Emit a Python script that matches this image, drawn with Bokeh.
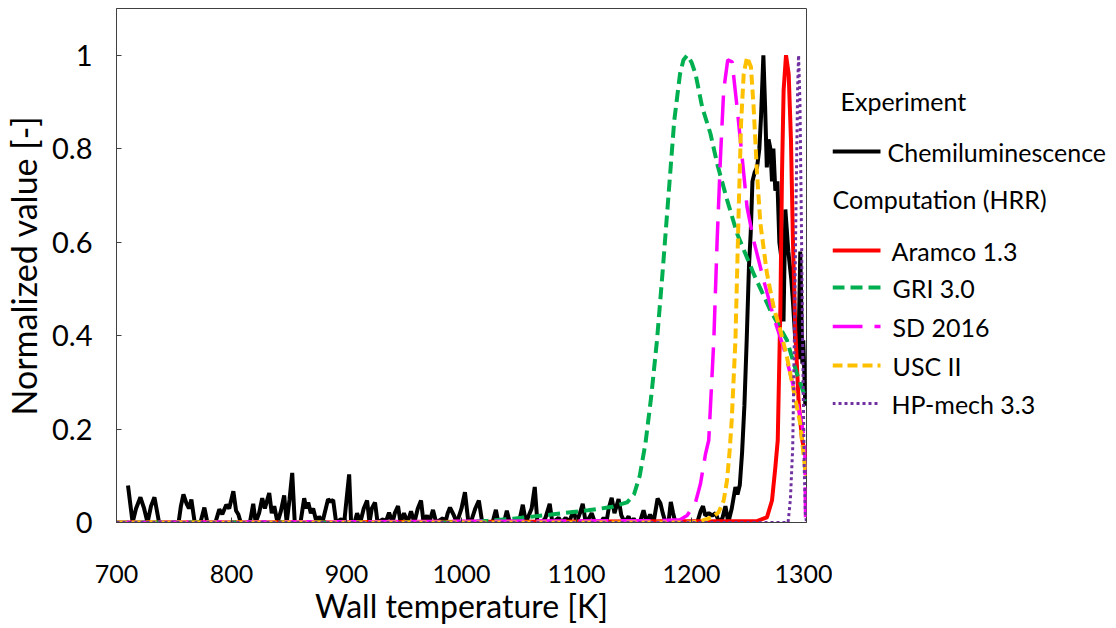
from bokeh.plotting import figure
from bokeh.models import FixedTicker, CustomJSTickFormatter, Range1d
from bokeh.layouts import row
from bokeh.core.properties import value
from bokeh.embed import file_html
from bokeh.resources import INLINE

# ---------------- data ----------------
x_ticks = [700, 800, 900, 1000, 1100, 1200, 1300]
y_ticks = [0, 0.2, 0.4, 0.6, 0.8, 1.0]

exp_T = [710, 714, 717, 720.8, 724, 727, 730, 733, 737, 754,
         756, 758.2, 761, 763, 765.1, 768, 773, 776.4, 779, 786,
         789.4, 792, 795.5, 798, 801.6, 804, 806, 808, 816, 818.9,
         821, 824, 826.7, 829, 832.8, 835, 837.2, 840, 843, 845.8,
         848, 850.5, 852.8, 855, 860, 863.2, 865, 866.7, 869, 871,
         874, 876.2, 879, 882, 884, 886, 888.4, 891, 895.3, 898,
         900.5, 902.3, 904, 907, 909.2, 912, 915, 917.9, 920, 922,
         924.8, 927, 931.8, 934, 937, 940, 942, 944.8, 947, 950,
         953, 956.1, 959, 962, 964.8, 967, 970, 972, 975.2, 978,
         983.9, 986, 988, 990, 993.4, 996, 1000, 1003, 1006, 1008,
         1012, 1015.1, 1018, 1027, 1029.9, 1032, 1037, 1039.4, 1042, 1050,
         1053.3, 1056, 1061, 1063.7, 1066, 1070, 1073, 1076.7, 1079, 1084.5,
         1087, 1090.6, 1093, 1095, 1097.6, 1100, 1103, 1105.4, 1108, 1111,
         1113.2, 1116, 1121, 1123.6, 1126, 1128, 1130.6, 1133, 1136.6, 1139,
         1142, 1145.3, 1147, 1149.7, 1152, 1155, 1158.3, 1161, 1164, 1167,
         1170.5, 1173, 1175, 1177.4, 1180, 1182, 1184, 1186, 1193, 1205,
         1208, 1210, 1212, 1215, 1218, 1221, 1224, 1227, 1229.5, 1232,
         1235, 1238.2, 1240, 1242, 1244, 1246, 1248, 1250, 1251.5, 1253,
         1255, 1257, 1259, 1260.5, 1262.5, 1264, 1265.5, 1267, 1268.6, 1270,
         1271.2, 1272.9, 1274.7, 1276.4, 1279, 1280, 1281.6, 1284.2, 1286.8, 1288,
         1290.3, 1292.9, 1294.6, 1296.4, 1297.2, 1299, 1300]
exp_V = [0.079, 0.0, 0.03, 0.054, 0.03, 0.0, 0.035, 0.054, 0.0, 0.0,
         0.035, 0.06, 0.04, 0.03, 0.049, 0.0, 0.0, 0.032, 0.0, 0.0,
         0.028, 0.018, 0.038, 0.03, 0.067, 0.025, 0.017, 0.0, 0.0, 0.04,
         0.0, 0.02, 0.052, 0.03, 0.063, 0.02, 0.035, 0.0, 0.025, 0.058,
         0.0, 0.05, 0.106, 0.0, 0.0, 0.052, 0.03, 0.043, 0.02, 0.03,
         0.0, 0.013, 0.0, 0.03, 0.05, 0.045, 0.048, 0.0, 0.007, 0.0,
         0.06, 0.103, 0.0, 0.0, 0.02, 0.0, 0.03, 0.047, 0.0, 0.03,
         0.043, 0.0, 0.007, 0.0, 0.021, 0.0, 0.02, 0.035, 0.0, 0.02,
         0.0, 0.024, 0.0, 0.03, 0.047, 0.0, 0.015, 0.0, 0.027, 0.0,
         0.009, 0.0, 0.02, 0.032, 0.015, 0.0, 0.03, 0.065, 0.0, 0.0,
         0.03, 0.047, 0.0, 0.0, 0.027, 0.0, 0.0, 0.025, 0.0, 0.0,
         0.038, 0.0, 0.03, 0.076, 0.0, 0.0, 0.01, 0.04, 0.0, 0.01,
         0.0, 0.01, 0.0, 0.01, 0.025, 0.0, 0.02, 0.04, 0.0, 0.01,
         0.02, 0.0, 0.0, 0.01, 0.0, 0.03, 0.053, 0.02, 0.05, 0.015,
         0.0, 0.013, 0.0, 0.008, 0.0, 0.0, 0.026, 0.0, 0.017, 0.0,
         0.051, 0.041, 0.02, 0.0, 0.0, 0.044, 0.02, 0.0, 0.0, 0.0,
         0.025, 0.035, 0.015, 0.02, 0.015, 0.02, 0.0, 0.01, 0.035, 0.0,
         0.03, 0.076, 0.06, 0.08, 0.15, 0.25, 0.39, 0.55, 0.62, 0.73,
         0.75, 0.76, 0.8, 0.87, 1.0, 0.89, 0.76, 0.82, 0.80, 0.73,
         0.8, 0.71, 0.73, 0.6, 0.55, 0.43, 0.67, 0.58, 0.52, 0.48,
         0.39, 0.35, 0.58, 0.34, 0.39, 0.25, 0.28]

aramco_T = [700, 1257, 1265.6, 1270, 1272.9, 1275, 1277.3, 1278.7, 1280.1, 1282.2,
            1284.5, 1286.5, 1288.2, 1290.3, 1293.1, 1296, 1299, 1300]
aramco_V = [0, 0.003, 0.011, 0.047, 0.118, 0.176, 0.461, 0.747, 0.925, 1.0,
            0.96, 0.818, 0.604, 0.41, 0.26, 0.18, 0.145, 0.14]

gri_T = [700, 1000, 1023, 1045, 1078, 1110, 1130, 1144, 1150, 1155,
         1160, 1165, 1170, 1175, 1180, 1185, 1190, 1193, 1196.3, 1200,
         1203.5, 1209.3, 1216.5, 1222.3, 1231, 1239.7, 1254.1, 1268.6, 1283, 1291.7,
         1299, 1300]
gri_V = [0, 0, 0.004, 0.008, 0.017, 0.026, 0.033, 0.043, 0.06, 0.10,
         0.17, 0.27, 0.39, 0.54, 0.70, 0.86, 0.96, 0.99, 1.0, 0.985,
         0.96, 0.889, 0.832, 0.768, 0.69, 0.618, 0.532, 0.454, 0.39, 0.318,
         0.268, 0.26]

sd_T = [700, 1170, 1190, 1196.2, 1203.5, 1207.8, 1212.2, 1215, 1219.4, 1222.3,
        1225.2, 1228, 1231.5, 1235.3, 1239.6, 1244, 1248.3, 1254, 1262.8, 1271.4,
        1280, 1285.9, 1291.7, 1296, 1298.5, 1299.2, 1300]
sd_V = [0, 0.004, 0.006, 0.015, 0.043, 0.083, 0.147, 0.176, 0.39, 0.604,
        0.782, 0.925, 0.99, 0.986, 0.889, 0.782, 0.675, 0.604, 0.518, 0.44,
        0.375, 0.318, 0.261, 0.211, 0.17, 0.0, 0.0]

usc_T = [700, 1200, 1207.8, 1217.9, 1223.6, 1228, 1230.9, 1233.2, 1235, 1238.2,
         1241.1, 1243.1, 1245.4, 1248.3, 1251.7, 1254, 1257, 1259.9, 1265.6, 1271.4,
         1277.3, 1283, 1288.8, 1294.6, 1299, 1300]
usc_V = [0, 0, 0.003, 0.011, 0.022, 0.047, 0.09, 0.154, 0.22, 0.39,
         0.675, 0.854, 0.96, 0.996, 0.975, 0.889, 0.746, 0.64, 0.533, 0.461,
         0.411, 0.354, 0.283, 0.211, 0.11, 0.1]

hp_T = [700, 1284, 1286, 1288, 1289.5, 1291, 1292.3, 1293.1, 1294.3, 1295.5,
        1296.8, 1298, 1299, 1300]
hp_V = [0, 0.0, 0.05, 0.16, 0.4, 0.7, 0.93, 1.0, 0.9, 0.65,
        0.35, 0.12, 0.02, 0.0]

series_names = ["Chemiluminescence", "Aramco 1.3", "GRI 3.0", "SD 2016", "USC II", "HP-mech 3.3"]
group_titles = ["Experiment", "Computation (HRR)"]

# ---------------- styles ----------------
FONT = "Lato"
styles = [
    dict(line_color="black", line_width=4),
    dict(line_color="#FF0000", line_width=4),
    dict(line_color="#00B050", line_width=4, line_dash="12 6"),
    dict(line_color="#FF00FF", line_width=3.5, line_dash="30 12"),
    dict(line_color="#FFC000", line_width=4, line_dash="10 5"),
    dict(line_color="#7030A0", line_width=3, line_dash="3 3"),
]

# ---------------- main figure ----------------
p = figure(width=832, height=628, x_range=(700, 1300), y_range=(0, 1.1),
           output_backend="svg", toolbar_location=None,
           min_border_left=115, min_border_right=26, min_border_top=8, min_border_bottom=106,
           background_fill_color="white", border_fill_color="white")
p.grid.visible = False
p.outline_line_color = "#404040"
p.outline_line_width = 1

all_T = [exp_T, aramco_T, gri_T, sd_T, usc_T, hp_T]
all_V = [exp_V, aramco_V, gri_V, sd_V, usc_V, hp_V]
for T, V, st in zip(all_T, all_V, styles):
    p.line(T, V, **st)

for ax in (p.xaxis[0], p.yaxis[0]):
    ax.axis_line_color = "#404040"
    ax.major_tick_line_color = "#404040"
    ax.major_tick_in = 5
    ax.major_tick_out = 0
    ax.minor_tick_line_color = None
    ax.major_label_text_font = FONT
    ax.major_label_text_color = "black"
    ax.axis_label_text_font = FONT
    ax.axis_label_text_font_style = "normal"
    ax.axis_label_text_color = "black"

p.xaxis.major_label_text_font_size = "25px"
p.yaxis.major_label_text_font_size = "29px"
p.xaxis.axis_label_text_font_size = "32px"
p.yaxis.axis_label_text_font_size = "34px"
p.xaxis.ticker = FixedTicker(ticks=x_ticks)
p.yaxis.ticker = FixedTicker(ticks=y_ticks)
p.yaxis.formatter = CustomJSTickFormatter(code="return String(Math.round(tick*10)/10);")
p.xaxis.axis_label = "Wall temperature [K]"
p.yaxis.axis_label = "Normalized value [-]"
p.xaxis.major_label_standoff = 42
p.xaxis.axis_label_standoff = 0
p.yaxis.major_label_standoff = 24
p.yaxis.axis_label_standoff = 5

# ---------------- legend panel ----------------
# frame of this panel is aligned with the main frame (y from 8 to 522 px),
# so the range is set to pixel coordinates of the page
lg = figure(width=284, height=628, x_range=Range1d(832, 1116), y_range=Range1d(522, 8),
            output_backend="svg", toolbar_location=None,
            x_axis_location=None, y_axis_location=None,
            min_border_left=0, min_border_right=0, min_border_top=8, min_border_bottom=106,
            background_fill_color="white", border_fill_color="white")
lg.grid.visible = False
lg.outline_line_color = None

item_rows = [151, 250, 287, 326, 365, 403]
item_text_x = [887, 891, 892, 892, 892, 891]
for yy, st in zip(item_rows, styles):
    lg.line([832, 880], [yy, yy], **st)
lg.text(x=item_text_x, y=item_rows, text=series_names,
        text_font=value(FONT), text_font_size="25px", text_color="black",
        text_baseline="middle", text_align="left")
lg.text(x=[840, 832], y=[100, 198], text=group_titles,
        text_font=value(FONT), text_font_size="25px", text_color="black",
        text_baseline="middle", text_align="left")

layout = row(p, lg)
open("out.html", "w").write(file_html(layout, INLINE))
